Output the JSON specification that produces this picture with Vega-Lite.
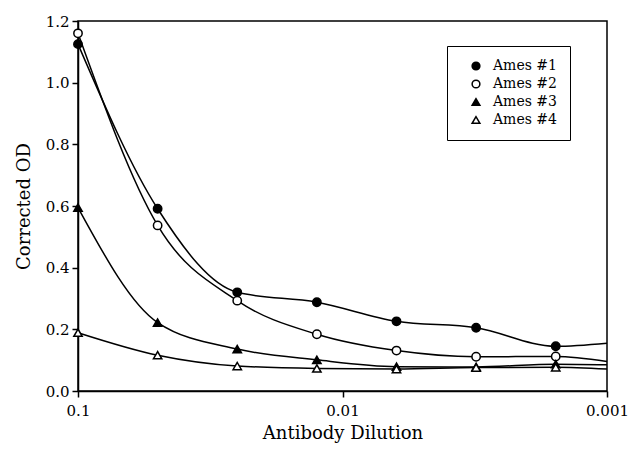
{
  "$schema": "https://vega.github.io/schema/vega-lite/v6.json",
  "width": 529,
  "height": 370,
  "autosize": "none",
  "padding": {"left": 78, "top": 21, "right": 25, "bottom": 62},
  "background": "white",
  "config": {
    "font": "DejaVu Serif",
    "view": {"stroke": "black", "strokeWidth": 1.5},
    "axis": {
      "domainColor": "black", "domainWidth": 1.5, "tickColor": "black", "tickWidth": 1.5,
      "labelColor": "black", "titleColor": "black",
      "labelFont": "DejaVu Serif", "titleFont": "DejaVu Serif",
      "labelFontSize": 15, "titleFontSize": 18, "titleFontWeight": "normal", "grid": false, "tickSize": 6
    },
    "legend": {"labelFont": "DejaVu Serif"}
  },
  "data": {"values": [
    {"series": "Ames #1", "dil": 0.1, "od": 1.125, "measured": true},
    {"series": "Ames #1", "dil": 0.05, "od": 0.591, "measured": true},
    {"series": "Ames #1", "dil": 0.025, "od": 0.320, "measured": true},
    {"series": "Ames #1", "dil": 0.0125, "od": 0.288, "measured": true},
    {"series": "Ames #1", "dil": 0.00625, "od": 0.226, "measured": true},
    {"series": "Ames #1", "dil": 0.003125, "od": 0.205, "measured": true},
    {"series": "Ames #1", "dil": 0.0015625, "od": 0.145, "measured": true},
    {"series": "Ames #1", "dil": 0.001, "od": 0.155, "measured": false},
    {"series": "Ames #2", "dil": 0.1, "od": 1.160, "measured": true},
    {"series": "Ames #2", "dil": 0.05, "od": 0.537, "measured": true},
    {"series": "Ames #2", "dil": 0.025, "od": 0.293, "measured": true},
    {"series": "Ames #2", "dil": 0.0125, "od": 0.184, "measured": true},
    {"series": "Ames #2", "dil": 0.00625, "od": 0.131, "measured": true},
    {"series": "Ames #2", "dil": 0.003125, "od": 0.111, "measured": true},
    {"series": "Ames #2", "dil": 0.0015625, "od": 0.112, "measured": true},
    {"series": "Ames #2", "dil": 0.001, "od": 0.096, "measured": false},
    {"series": "Ames #3", "dil": 0.1, "od": 0.595, "measured": true},
    {"series": "Ames #3", "dil": 0.05, "od": 0.222, "measured": true},
    {"series": "Ames #3", "dil": 0.025, "od": 0.136, "measured": true},
    {"series": "Ames #3", "dil": 0.0125, "od": 0.101, "measured": true},
    {"series": "Ames #3", "dil": 0.00625, "od": 0.079, "measured": true},
    {"series": "Ames #3", "dil": 0.003125, "od": 0.078, "measured": true},
    {"series": "Ames #3", "dil": 0.0015625, "od": 0.087, "measured": true},
    {"series": "Ames #3", "dil": 0.001, "od": 0.085, "measured": false},
    {"series": "Ames #4", "dil": 0.1, "od": 0.189, "measured": true},
    {"series": "Ames #4", "dil": 0.05, "od": 0.116, "measured": true},
    {"series": "Ames #4", "dil": 0.025, "od": 0.081, "measured": true},
    {"series": "Ames #4", "dil": 0.0125, "od": 0.073, "measured": true},
    {"series": "Ames #4", "dil": 0.00625, "od": 0.071, "measured": true},
    {"series": "Ames #4", "dil": 0.003125, "od": 0.076, "measured": true},
    {"series": "Ames #4", "dil": 0.0015625, "od": 0.077, "measured": true},
    {"series": "Ames #4", "dil": 0.001, "od": 0.071, "measured": false}
  ]},
  "encoding": {
    "x": {
      "field": "dil", "type": "quantitative",
      "scale": {"type": "log", "domain": [0.001, 0.1], "reverse": true, "nice": false},
      "axis": {"values": [0.1, 0.01, 0.001], "format": "~g", "title": "Antibody Dilution", "labelPadding": 6, "titlePadding": 6, "labelFlush": false}
    },
    "y": {
      "field": "od", "type": "quantitative",
      "scale": {"domain": [0, 1.2], "nice": false, "zero": true},
      "axis": {"values": [0, 0.2, 0.4, 0.6, 0.8, 1.0, 1.2], "format": ".1f", "title": "Corrected OD", "labelPadding": 3, "titlePadding": 12}
    }
  },
  "layer": [
    {
      "mark": {"type": "line", "interpolate": "monotone", "color": "black", "strokeWidth": 1.5},
      "encoding": {
        "detail": {"field": "series", "type": "nominal"},
        "order": {"field": "dil", "type": "quantitative", "sort": "descending"}
      }
    },
    {
      "transform": [{"filter": "datum.measured"}],
      "mark": {"type": "point", "filled": true, "stroke": "black", "strokeWidth": 1.5, "size": 70, "opacity": 1},
      "encoding": {
        "shape": {
          "field": "series", "type": "nominal",
          "scale": {"domain": ["Ames #1", "Ames #2", "Ames #3", "Ames #4"], "range": ["circle", "circle", "triangle-up", "triangle-up"]},
          "legend": {
            "title": null, "orient": "none", "legendX": 369, "legendY": 25,
            "strokeColor": "black", "padding": 13, "fillColor": "white",
            "labelFontSize": 14, "labelColor": "black", "symbolSize": 60,
            "symbolOffset": 9, "labelOffset": 10, "rowPadding": 4,
            "encode": {"symbols": {"update": {
              "fill": {"scale": "fill", "field": "value"},
              "stroke": {"value": "black"},
              "strokeWidth": {"value": 1.5},
              "opacity": {"value": 1}
            }}}
          }
        },
        "fill": {
          "field": "series", "type": "nominal",
          "scale": {"domain": ["Ames #1", "Ames #2", "Ames #3", "Ames #4"], "range": ["black", "white", "black", "white"]},
          "legend": null
        }
      }
    }
  ]
}
